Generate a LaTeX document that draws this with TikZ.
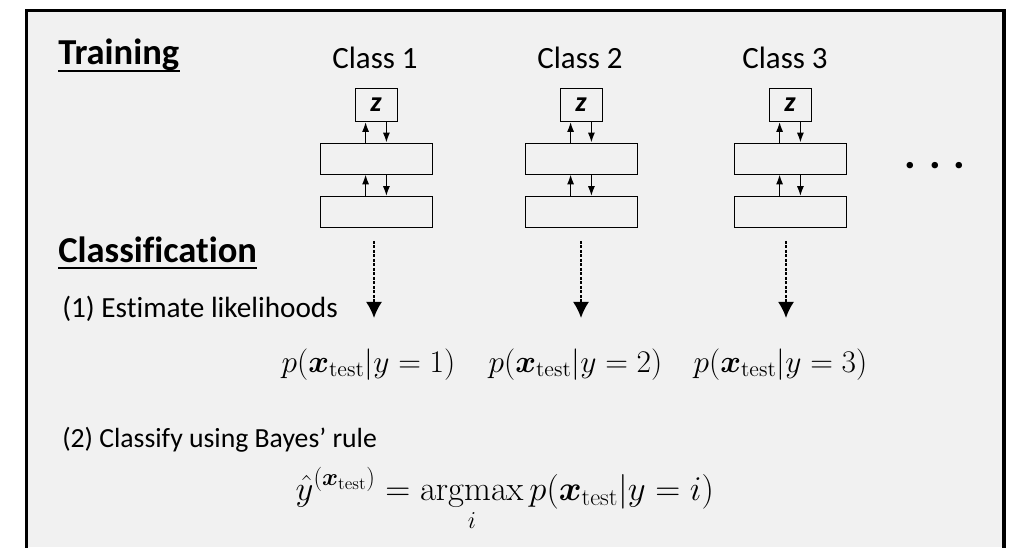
\RequirePackage{fix-cm}
\documentclass[tikz,border=0pt]{standalone}
\usepackage{amsmath}
\usepackage{amssymb}
\usepackage[no-math]{fontspec}
\setmainfont[Ligatures=NoCommon]{Carlito}
\usepackage{tikz}
\usetikzlibrary{arrows.meta}
\definecolor{panel}{RGB}{241,241,241}

\begin{document}
\begin{tikzpicture}[
    layer/.style={draw,line width=0.7pt,minimum width=2.8cm,minimum height=0.775cm,inner sep=0pt},
    zbox/.style={draw,line width=0.7pt,minimum width=1.05cm,minimum height=0.825cm,inner sep=0pt,
      font=\fontsize{20}{24}\selectfont\bfseries\itshape},
    link/.style={line width=1pt,-{Latex[length=7pt,width=5pt]}},
    guess/.style={line width=1.4pt,dash pattern=on 2.2pt off 1pt,-{Latex[length=0.4cm,width=0.4cm]}},
    classlbl/.style={inner sep=0pt,anchor=base,font=\fontsize{22}{26}\selectfont},
    head/.style={inner sep=0pt,anchor=base west,font=\fontsize{26}{30}\selectfont\bfseries},
    stepnote/.style={inner sep=0pt,anchor=base west,font=\fontsize{19.7}{24}\selectfont},
    lik/.style={inner sep=0pt,anchor=base,font=\fontsize{22.4}{27}\selectfont}]
  \useasboundingbox (0,0) rectangle (25.375,13.675);
  % panel
  \fill[panel] (0.6625,0) rectangle (25.1,13.4125);
  \draw[line width=2.8pt] (0.6625,-0.2) -- (0.6625,13.4125) -- (25.1,13.4125) -- (25.1,-0.2);

  % training
  \node[head] (train) at (1.45,12.05) {Training};
  \draw[line width=1.4pt] ([yshift=-0.14cm]train.base west) -- ([yshift=-0.14cm]train.base east);

  \node[classlbl] (c1) at (9.375,11.95) {Class 1};
  \node[classlbl] (c2) at (14.5,11.95) {Class 2};
  \node[classlbl] (c3) at (19.625,11.95) {Class 3};

  \node[zbox] (z1) at (9.4,11.05) {z};
  \node[layer] (b11) at (9.4,9.7125) {};
  \node[layer] (b12) at (9.4,8.375) {};
  \node[zbox] (z2) at (14.525,11.05) {z};
  \node[layer] (b21) at (14.525,9.7125) {};
  \node[layer] (b22) at (14.525,8.375) {};
  \node[zbox] (z3) at (19.75,11.05) {z};
  \node[layer] (b31) at (19.75,9.7125) {};
  \node[layer] (b32) at (19.75,8.375) {};

  \draw[link] ([xshift=-0.26cm]b11.north) -- ([xshift=-0.26cm]z1.south);
  \draw[link] ([xshift=0.26cm]z1.south) -- ([xshift=0.26cm]b11.north);
  \draw[link] ([xshift=-0.26cm]b12.north) -- ([xshift=-0.26cm]b11.south);
  \draw[link] ([xshift=0.26cm]b11.south) -- ([xshift=0.26cm]b12.north);
  \draw[link] ([xshift=-0.26cm]b21.north) -- ([xshift=-0.26cm]z2.south);
  \draw[link] ([xshift=0.26cm]z2.south) -- ([xshift=0.26cm]b21.north);
  \draw[link] ([xshift=-0.26cm]b22.north) -- ([xshift=-0.26cm]b21.south);
  \draw[link] ([xshift=0.26cm]b21.south) -- ([xshift=0.26cm]b22.north);
  \draw[link] ([xshift=-0.26cm]b31.north) -- ([xshift=-0.26cm]z3.south);
  \draw[link] ([xshift=0.26cm]z3.south) -- ([xshift=0.26cm]b31.north);
  \draw[link] ([xshift=-0.26cm]b32.north) -- ([xshift=-0.26cm]b31.south);
  \draw[link] ([xshift=0.26cm]b31.south) -- ([xshift=0.26cm]b32.north);

  \node[inner sep=0pt,font=\fontsize{31}{36}\selectfont\bfseries] (dots) at (23.375,9.53) {. . .};

  % classification
  \node[head] (cls) at (1.45,7.125) {Classification};
  \draw[line width=1.4pt] ([yshift=-0.15cm]cls.base west) -- ([yshift=-0.15cm]cls.base east);

  \node[stepnote,font=\fontsize{20.8}{25}\selectfont] (est) at (1.55,5.75) {(1) Estimate likelihoods};

  \node[lik] (l1) at (9.2125,4.375) {$p(\boldsymbol{x}_{\mathrm{test}}|y=1)$};
  \node[lik] (l2) at (14.3875,4.375) {$p(\boldsymbol{x}_{\mathrm{test}}|y=2)$};
  \node[lik] (l3) at (19.5125,4.375) {$p(\boldsymbol{x}_{\mathrm{test}}|y=3)$};

  \draw[guess] ([xshift=-0.05cm,yshift=-0.32cm]b12.south) -- ++(0,-1.93);
  \draw[guess] ([yshift=-0.32cm]b22.south) -- ++(0,-1.93);
  \draw[guess] ([xshift=-0.1cm,yshift=-0.32cm]b32.south) -- ++(0,-1.93);

  \node[stepnote] (bayes) at (1.55,2.5) {(2) Classify using Bayes’ rule};
  \node[lik,font=\fontsize{24.7}{30}\selectfont] (rule) at (12.62,1.175)
    {$\displaystyle \hat{y}^{(\boldsymbol{x}_{\mathrm{test}})}=\operatorname*{argmax}_{i}p(\boldsymbol{x}_{\mathrm{test}}|y=i)$};
\end{tikzpicture}
\end{document}
